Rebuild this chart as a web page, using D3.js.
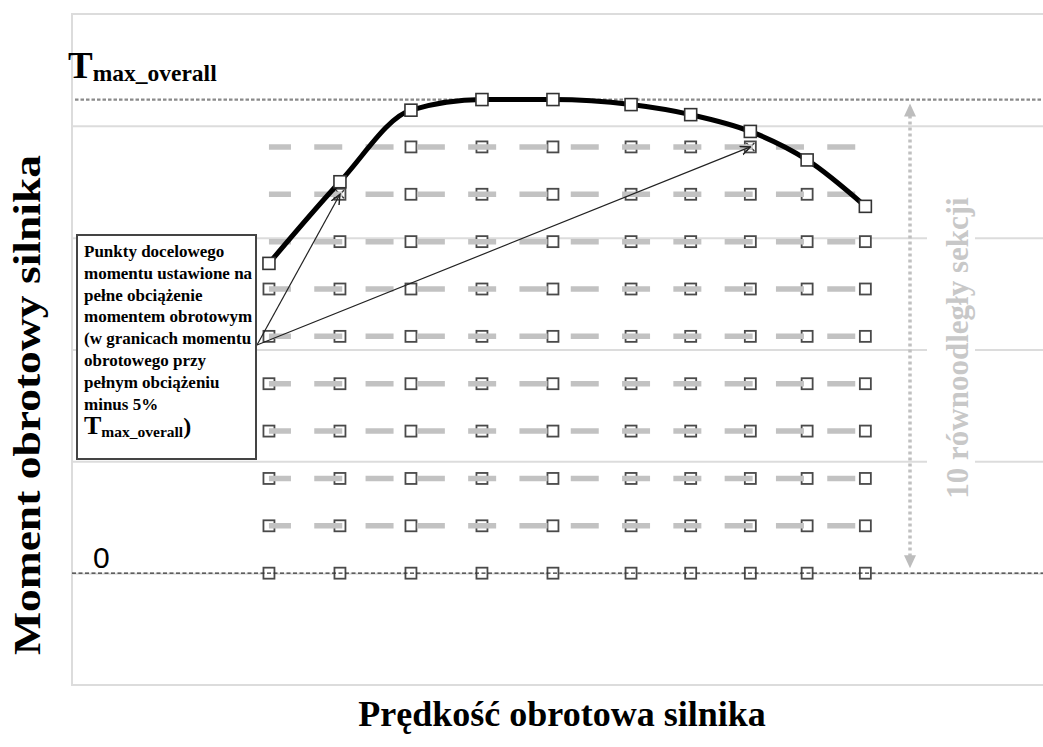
<!DOCTYPE html>
<html>
<head>
<meta charset="utf-8">
<script src="https://cdn.jsdelivr.net/npm/d3@7"></script>
<style>
body { margin: 0; background: #fff; }
</style>
</head>
<body>
<div id="chart"></div>
<script>
// values
const SPEEDS = [1000, 1500, 2000, 2500, 3000, 3550, 3970, 4390, 4790, 5200];      // engine speed, rpm
const FULL_LOAD = [277, 350, 414, 423.5, 423.5, 419, 410, 395, 369.5, 328];       // full load torque
const T_MAX = 423.5;
const LEVELS = [0, 1, 2, 3, 4, 5, 6, 7, 8, 9];            // target rows, tenths of T_MAX
const TOP_LEVEL = [6, 7, 9, 9, 9, 9, 9, 8, 8, 7];         // highest target row kept at each speed
const CROSSED = [[1, 8], [7, 9]];                         // [speed index, level] moved to full load
const GRID_TICKS = [0, 100, 200, 300, 400];
const NOTE_LINES = ["Punkty docelowego", "momentu ustawione na", "pełne obciążenie",
  "momentem obrotowym", "(w granicach momentu", "obrotowego przy",
  "pełnym obciążeniu", "minus 5%"];

// frame setup
const FRAME_WIDTH = 1043;
const FRAME_HEIGHT = 747;
const PLOT = {left: 72, right: 1043, top: 14, bottom: 685};
const SERIF = "'Liberation Serif', 'DejaVu Serif', serif";

const svg = d3.select("#chart")
  .append("svg")
  .attr("width", FRAME_WIDTH)
  .attr("height", FRAME_HEIGHT);

const x = d3.scaleLinear().domain([-387, 6451]).range([PLOT.left, PLOT.right]);
const y = d3.scaleLinear().domain([-100, 500]).range([PLOT.bottom, PLOT.top]);

// gridlines + plot border
svg.append("g")
  .attr("transform", "translate(" + PLOT.left + ",0)")
  .call(d3.axisLeft(y).tickValues(GRID_TICKS).tickSize(-(PLOT.right - PLOT.left)).tickFormat(""))
  .call(g => g.select(".domain").remove())
  .call(g => g.selectAll("line").attr("stroke", "#dcdcdc").attr("stroke-width", 2));

svg.append("path")
  .attr("d", "M" + PLOT.right + "," + PLOT.top + "H" + PLOT.left + "V" + PLOT.bottom + "H" + PLOT.right)
  .attr("fill", "none")
  .attr("stroke", "#dcdcdc")
  .attr("stroke-width", 2);

// white band behind the vertical label
svg.append("rect")
  .attr("x", 927).attr("y", 195)
  .attr("width", 48).attr("height", 305)
  .attr("fill", "#fff");

// target points
const points = [];
SPEEDS.forEach((s, i) => {
  LEVELS.forEach(k => {
    const crossed = CROSSED.some(c => c[0] === i && c[1] === k);
    if (k <= TOP_LEVEL[i] || crossed) points.push({s: s, t: T_MAX * k / 10, crossed: crossed});
  });
});

const M = 11;
svg.append("g").selectAll("rect")
  .data(points)
  .join("rect")
  .attr("x", d => x(d.s) - M / 2)
  .attr("y", d => y(d.t) - M / 2)
  .attr("width", M).attr("height", M)
  .attr("fill", "#fff")
  .attr("stroke", "#4a4a4a")
  .attr("stroke-width", 1.8);

svg.append("g").selectAll("path")
  .data(points.filter(d => d.crossed))
  .join("path")
  .attr("d", d => "M" + (x(d.s) - 4) + "," + (y(d.t) - 4) + "l8,8m0,-8l-8,8")
  .attr("stroke", "#333")
  .attr("stroke-width", 1.4);

// grey dashed rows
const rowLine = d3.line().x(d => x(d[0])).y(d => y(d[1]));
svg.append("g").selectAll("path")
  .data(LEVELS.filter(k => k > 0))
  .join("path")
  .attr("d", k => rowLine([[SPEEDS[0], T_MAX * k / 10], [SPEEDS[SPEEDS.length - 1], T_MAX * k / 10]]))
  .attr("fill", "none")
  .attr("stroke", "#c2c2c2")
  .attr("stroke-width", 5.5)
  .attr("stroke-dasharray", "28 23.3")
  .attr("stroke-dashoffset", 6);

// zero line and T max line
svg.append("line")
  .attr("x1", PLOT.left).attr("x2", PLOT.right)
  .attr("y1", y(0)).attr("y2", y(0))
  .attr("stroke", "#333")
  .attr("stroke-width", 1.3)
  .attr("stroke-dasharray", "4 2.5");

svg.append("line")
  .attr("x1", PLOT.left + 3).attr("x2", PLOT.right)
  .attr("y1", y(T_MAX)).attr("y2", y(T_MAX))
  .attr("stroke", "#8a8a8a")
  .attr("stroke-width", 2.2)
  .attr("stroke-dasharray", "3.5 2");

// full load curve
svg.append("path")
  .datum(SPEEDS.map((s, i) => [s, FULL_LOAD[i]]))
  .attr("d", d3.line().x(d => x(d[0])).y(d => y(d[1])).curve(d3.curveMonotoneX))
  .attr("fill", "none")
  .attr("stroke", "#000")
  .attr("stroke-width", 5)
  .attr("stroke-linecap", "round");

svg.append("g").selectAll("rect")
  .data(SPEEDS.map((s, i) => [s, FULL_LOAD[i]]))
  .join("rect")
  .attr("x", d => x(d[0]) - 6)
  .attr("y", d => y(d[1]) - 6)
  .attr("width", 12).attr("height", 12)
  .attr("fill", "#fff")
  .attr("stroke", "#333")
  .attr("stroke-width", 1.6);

// arrows from the note
svg.append("defs").append("marker")
  .attr("id", "head")
  .attr("viewBox", "0 0 10 10")
  .attr("refX", 9).attr("refY", 5)
  .attr("markerWidth", 11).attr("markerHeight", 11)
  .attr("markerUnits", "userSpaceOnUse")
  .attr("orient", "auto")
  .append("path")
  .attr("d", "M0,1 L9,5 L0,9")
  .attr("fill", "none")
  .attr("stroke", "#222")
  .attr("stroke-width", 1.3);

const NOTE = {x: 77, y: 235, w: 179, h: 224};
const origin = [NOTE.x + NOTE.w + 1, 345];
svg.append("g").selectAll("line")
  .data(CROSSED)
  .join("line")
  .attr("x1", origin[0]).attr("y1", origin[1])
  .attr("x2", c => x(SPEEDS[c[0]]))
  .attr("y2", c => y(T_MAX * c[1] / 10))
  .attr("stroke", "#222")
  .attr("stroke-width", 1.2)
  .attr("marker-end", "url(#head)");

// note box
svg.append("rect")
  .attr("x", NOTE.x).attr("y", NOTE.y)
  .attr("width", NOTE.w).attr("height", NOTE.h)
  .attr("fill", "#fff")
  .attr("stroke", "#444")
  .attr("stroke-width", 2);

const note = svg.append("g")
  .attr("font-family", SERIF)
  .attr("font-weight", "bold")
  .attr("fill", "#000");

note.selectAll("text.line")
  .data(NOTE_LINES)
  .join("text")
  .attr("class", "line")
  .attr("x", NOTE.x + 7)
  .attr("y", (d, i) => 257 + i * 21.8)
  .attr("font-size", 17)
  .text(d => d);

const last = note.append("text")
  .attr("x", NOTE.x + 7)
  .attr("y", 257 + 8 * 21.8 + 3);
last.append("tspan").attr("font-size", 26).text("T");
last.append("tspan").attr("font-size", 15.5).attr("dy", 3).text("max_overall");
last.append("tspan").attr("font-size", 24).attr("dy", -3).text(")");

// vertical double arrow
const VX = 910;
svg.append("line")
  .attr("x1", VX).attr("x2", VX)
  .attr("y1", y(T_MAX) + 16).attr("y2", y(0) - 14)
  .attr("stroke", "#c0c0c0")
  .attr("stroke-width", 3.5)
  .attr("stroke-dasharray", "3 3");

svg.append("path")
  .attr("d", "M" + VX + "," + (y(T_MAX) + 4) + "l-6,13h12z" +
             "M" + VX + "," + (y(0) - 5) + "l-6,-13h12z")
  .attr("fill", "#bdbdbd");

svg.append("text")
  .attr("transform", "translate(968,348) rotate(-90)")
  .attr("text-anchor", "middle")
  .attr("font-family", SERIF)
  .attr("font-weight", "bold")
  .attr("font-size", 31)
  .attr("fill", "#c8c8c8")
  .text("10 równoodległy sekcji");

// T max and 0 labels
const tmax = svg.append("text")
  .attr("x", 68).attr("y", 78)
  .attr("font-family", SERIF)
  .attr("font-weight", "bold");
tmax.append("tspan").attr("font-size", 37).text("T");
tmax.append("tspan").attr("font-size", 23.5).attr("dy", 3).text("max_overall");

svg.append("text")
  .attr("x", 93).attr("y", 568)
  .attr("font-family", "'Liberation Sans', Arial, sans-serif")
  .attr("font-size", 30)
  .text("0");

// axis titles
svg.append("text")
  .attr("x", 562).attr("y", 726)
  .attr("text-anchor", "middle")
  .attr("font-family", SERIF)
  .attr("font-weight", "bold")
  .attr("font-size", 36)
  .text("Prędkość obrotowa silnika");

svg.append("text")
  .attr("transform", "translate(40,405) rotate(-90)")
  .attr("text-anchor", "middle")
  .attr("font-family", SERIF)
  .attr("font-weight", "bold")
  .attr("font-size", 38)
  .attr("textLength", 500)
  .attr("lengthAdjust", "spacingAndGlyphs")
  .text("Moment obrotowy silnika");
</script>
</body>
</html>
